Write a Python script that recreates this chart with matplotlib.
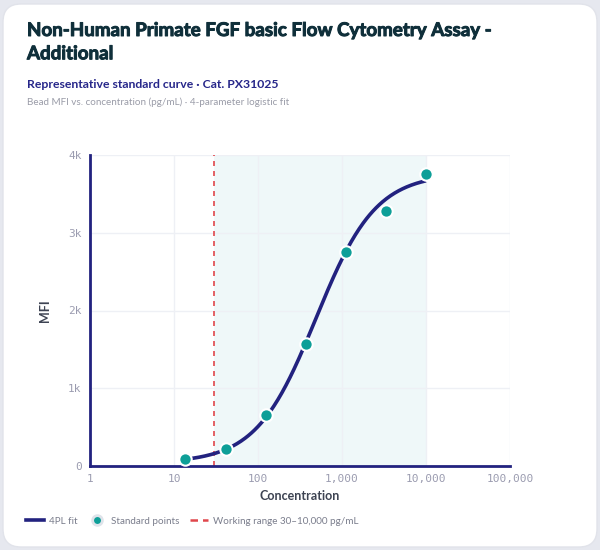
import numpy as np
import matplotlib
matplotlib.use("Agg")
import matplotlib.pyplot as plt
import matplotlib.patheffects as pe
from matplotlib.patches import FancyBboxPatch
from matplotlib.lines import Line2D

# ---- data ----
conc = [13.7, 41.2, 123.5, 370.4, 1111.1, 3333.3, 10000.0]
mfi = [92, 225, 660, 1563, 2750, 3280, 3752]
# 4PL parameters (bottom, top, EC50, hill slope)
fit_bottom, fit_top, fit_ec50, fit_slope = 40, 3760, 490, 1.22
range_low, range_high = 30, 10000
x_ticks = [1, 10, 100, 1000, 10000, 100000]
x_ticklabels = ["1", "10", "100", "1,000", "10,000", "100,000"]
y_ticks = [0, 1000, 2000, 3000, 4000]
y_ticklabels = ["0", "1k", "2k", "3k", "4k"]

title = "Non-Human Primate FGF basic Flow Cytometry Assay -\nAdditional"
subtitle = "Representative standard curve · Cat. PX31025"
caption = "Bead MFI vs. concentration (pg/mL) · 4-parameter logistic fit"

NAVY = "#22227f"
TEAL = "#0e9f98"
RED = "#e0474c"
GRID = "#eef0f5"
TICK = "#9b9cb0"

plt.rcParams['font.family'] = ['Lato', 'DejaVu Sans']

fig = plt.figure(figsize=(6, 5.5), dpi=100)
fig.patch.set_facecolor("#e6e8ef")
card = FancyBboxPatch((3/600, 3/550), 594/600, 543/550,
                      boxstyle="round,pad=0,rounding_size=0.03",
                      transform=fig.transFigure, facecolor="white",
                      edgecolor="#e1e3ea", linewidth=1, zorder=-10,
                      mutation_aspect=600/550)
fig.patches.append(card)

ax = fig.add_axes([90/600, (550-466)/550, 420/600, 311/550])
ax.set_zorder(5)
ax.set_facecolor("none")
ax.set_xscale("log")
ax.set_xlim(1, 1e5)
ax.set_ylim(0, 4000)

ax.axvspan(range_low, range_high, color="#e3f4f5", alpha=0.55, lw=0, zorder=0)
ax.axvline(range_low, color=RED, ls=(0, (3, 3)), lw=1.2, zorder=2)

xs = np.logspace(np.log10(conc[0]), np.log10(conc[-1]), 300)
ys = fit_top + (fit_bottom - fit_top) / (1 + (xs / fit_ec50) ** fit_slope)
ax.plot(xs, ys, color=NAVY, lw=2.6, zorder=3, solid_capstyle="butt")
ax.scatter(conc, mfi, s=80, color=TEAL, edgecolor="white", linewidth=1.5, zorder=4, clip_on=False)

ax.set_xticks(x_ticks)
ax.set_xticklabels(x_ticklabels)
ax.xaxis.set_minor_locator(matplotlib.ticker.NullLocator())
ax.set_yticks(y_ticks)
ax.set_yticklabels(y_ticklabels)
for lab in ax.get_xticklabels() + ax.get_yticklabels():
    lab.set_family("DejaVu Sans Mono")
    lab.set_fontsize(8)
    lab.set_color(TICK)
ax.tick_params(length=0, pad=6)
ax.grid(True, color=GRID, lw=1, zorder=1)
ax.set_axisbelow(True)
for s in ["top", "right"]:
    ax.spines[s].set_visible(False)
for s in ["left", "bottom"]:
    ax.spines[s].set_color(NAVY)
    ax.spines[s].set_linewidth(2)
ax.set_xlabel("Concentration", fontsize=9, fontweight="bold", color="#3d4352", labelpad=4)
ax.set_ylabel("MFI", fontsize=9, fontweight="bold", color="#3d4352", labelpad=12)

fig.text(27/600, 1 - 22/550, title, fontsize=13.5, fontweight="bold", color="#0f2f3a",
         va="top", ha="left", linespacing=1.45,
         path_effects=[pe.withStroke(linewidth=0.7, foreground="#0f2f3a")])
fig.text(27/600, 1 - 84/550, subtitle, fontsize=8.85, fontweight="bold", color="#27278a",
         va="center", ha="left")
fig.text(27/600, 1 - 102/550, caption, fontsize=7.1, color="#9a9ca8",
         va="center", ha="left")

handles = [
    Line2D([], [], color=NAVY, lw=2.6),
    Line2D([], [], color=TEAL, marker="o", ls="none", markersize=7,
           markeredgecolor="#dfe3ea", markeredgewidth=2),
    Line2D([], [], color=RED, lw=1.8, ls=(0, (3, 2))),
]
labels = ["4PL fit", "Standard points", "Working range 30–10,000 pg/mL"]
leg = fig.legend(handles, labels, loc="center left", bbox_to_anchor=(26/600, 1 - 521/550),
                 ncol=3, frameon=False, fontsize=7.1, handlelength=1.8, handletextpad=0.5,
                 columnspacing=1.1, borderpad=0, borderaxespad=0, labelcolor="#7a7d8c")

fig.savefig("out.png", dpi=100, facecolor=fig.get_facecolor())
